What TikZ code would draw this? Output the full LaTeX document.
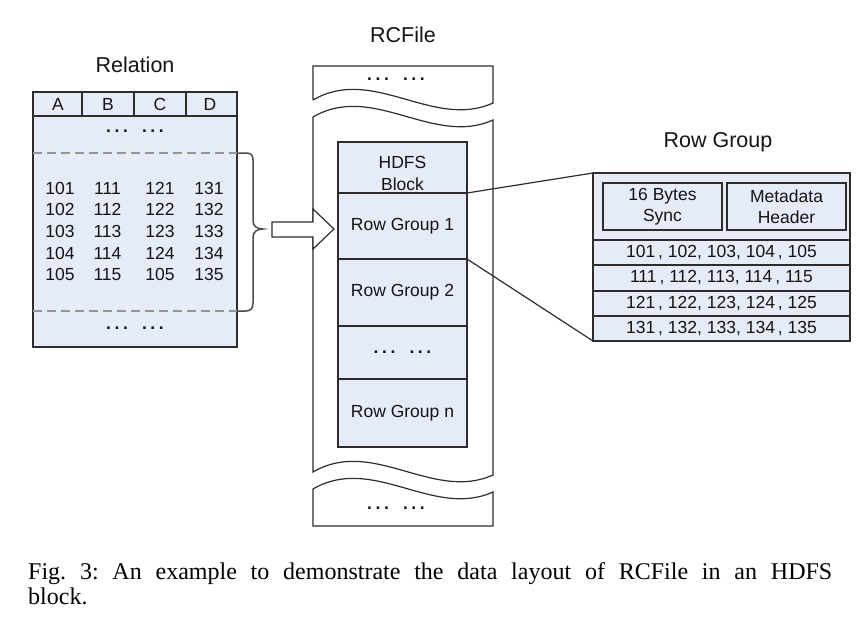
\documentclass[tikz,border=0pt]{standalone}
\usepackage{fontspec}
\setmainfont{Liberation Sans}
\newfontfamily\capfont{Liberation Serif}
\definecolor{cellfill}{RGB}{229,235,247}
\definecolor{linec}{RGB}{45,45,45}
\definecolor{txt}{RGB}{20,20,20}
\definecolor{dashc}{RGB}{150,150,150}
\newcommand\dgrp{\textbf{.\hspace{3.6pt}.\hspace{3.6pt}.}}
\newcommand\mydots{\dgrp\hspace{14pt}\dgrp}
\begin{document}
\begin{tikzpicture}[x=1pt,y=-1pt,
  cell/.style={draw=linec,fill=cellfill,line width=1.2pt,inner sep=0pt,outer sep=0pt},
  lbl/.style={font=\fontsize{17.5}{21.5}\selectfont,text=txt,inner sep=0pt,align=center},
  ttl/.style={font=\fontsize{21.5}{24}\selectfont,text=txt,inner sep=0pt},
  frame/.style={draw=linec,line width=1.2pt}]
\useasboundingbox (0,0) rectangle (862,618);

% ---------- Relation ----------
\node[ttl] (reltitle) at (135,65) {Relation};
\node[cell,minimum width=204pt,minimum height=255pt] (rel) at (135,219.5) {};
\draw[linec,line width=1.2pt] (rel.west |- 0,116) -- (rel.east |- 0,116);
\foreach \x in {82,134,186}{\draw[linec,line width=1.2pt] (\x,92) -- (\x,116);}
\node[lbl] (hA) at (58,104.5) {A};
\node[lbl] (hB) at (108,104.5) {B};
\node[lbl] (hC) at (160,104.5) {C};
\node[lbl] (hD) at (210,104.5) {D};
\node[lbl] (reldots1) at (135,131) {\mydots};
\node[lbl] (reldots2) at (135,328) {\mydots};
\draw[dashc,line width=2.3pt,dash pattern=on 9pt off 5pt] (33,153) -- (237,153);
\draw[dashc,line width=2.3pt,dash pattern=on 9pt off 5pt] (33,311) -- (237,311);
\foreach \a/\b/\c/\d [count=\i] in {101/111/121/131,102/112/122/132,103/113/123/133,104/114/124/134,105/115/105/135}{
  \pgfmathsetmacro\yy{188+21.7*(\i-1)}
  \node[lbl] (n\i a) at (60,\yy) {\a};
  \node[lbl] (n\i b) at (107.5,\yy) {\b};
  \node[lbl] (n\i c) at (160,\yy) {\c};
  \node[lbl] (n\i d) at (209,\yy) {\d};
}
% brace
\draw[black!70,line width=1.5pt] (237,153) -- (246,153) .. controls (251,153) and (253,155) .. (253,160)
  -- (253,221) .. controls (253,226) and (257,229) .. (263,229)
  .. controls (257,229) and (253,232) .. (253,237)
  -- (253,303) .. controls (253,308) and (251,311) .. (246,311) -- (237,311);

% ---------- RCFile ----------
\node[ttl] (rctitle) at (403,35) {RCFile};
\draw[frame] (313,100) -- (313,66) -- (493,66) -- (493,103)
  .. controls (433,130) and (373,65) .. (313,100);
\node[lbl] (topdots) at (396,79) {\mydots};
\draw[frame] (313,117) .. controls (373,82) and (433,147) .. (493,120)
  -- (493,475) .. controls (433,502) and (373,437) .. (313,472) -- cycle;
\draw[frame] (313,489) .. controls (373,454) and (433,519) .. (493,492)
  -- (493,526) -- (313,526) -- cycle;
\node[lbl] (botdots) at (396,508) {\mydots};

% hollow arrow
\draw[frame,fill=white] (272,222) -- (313,222) -- (313,209) -- (334,229) -- (313,249) -- (313,237) -- (272,237) -- cycle;

% column cells
\node[cell,minimum width=129pt,minimum height=51pt] (hdfs) at (402.5,167.5) {};
\node[lbl] (hdfstext) at (402.5,173.5) {HDFS\\Block};
\node[cell,minimum width=129pt,minimum height=66pt,lbl] (rg1) at (402.5,226) {Row Group 1};
\node[cell,minimum width=129pt,minimum height=67pt,lbl] (rg2) at (402.5,292.5) {Row Group 2};
\node[cell,minimum width=129pt,minimum height=53pt,lbl] (rgd) at (402.5,352.5) {\mydots};
\node[cell,minimum width=129pt,minimum height=68pt,lbl] (rgn) at (402.5,413) {Row Group n};

% ---------- Row Group panel ----------
\node[ttl] (rgtitle) at (718,142) {Row Group};
\node[cell,minimum width=257pt,minimum height=168pt] (rgbox) at (721.5,257) {};
\node[cell,minimum width=119pt,minimum height=47pt,lbl] (sync) at (662.5,206.5) {16 Bytes\\Sync};
\node[cell,minimum width=119pt,minimum height=47pt,lbl] (meta) at (786.5,206.5) {Metadata\\Header};
\node[cell,minimum width=257pt,minimum height=25pt,lbl] (r1) at (721.5,252.5) {101\,, 102, 103, 104\,, 105};
\node[cell,minimum width=257pt,minimum height=26pt,lbl] (r2) at (721.5,278) {111\,, 112, 113, 114\,, 115};
\node[cell,minimum width=257pt,minimum height=25pt,lbl] (r3) at (721.5,303.5) {121\,, 122, 123, 124\,, 125};
\node[cell,minimum width=257pt,minimum height=25pt,lbl] (r4) at (721.5,328.5) {131\,, 132, 133, 134\,, 135};

% connectors
\draw[linec,line width=1.2pt] (hdfs.south east) -- (rgbox.north west);
\draw[linec,line width=1.2pt] (rg1.south east) -- (rgbox.south west);

% ---------- caption ----------
\node[anchor=base west,inner sep=0pt,font=\capfont\fontsize{24}{25}\selectfont,text=black] (cap1) at (28,579)
  {\frenchspacing\makebox[804pt][s]{Fig. 3: An example to demonstrate the data layout of RCFile in an HDFS}};
\node[anchor=base west,inner sep=0pt,font=\capfont\fontsize{24}{25}\selectfont,text=black] (cap2) at (28,604) {block.};
\end{tikzpicture}
\end{document}
